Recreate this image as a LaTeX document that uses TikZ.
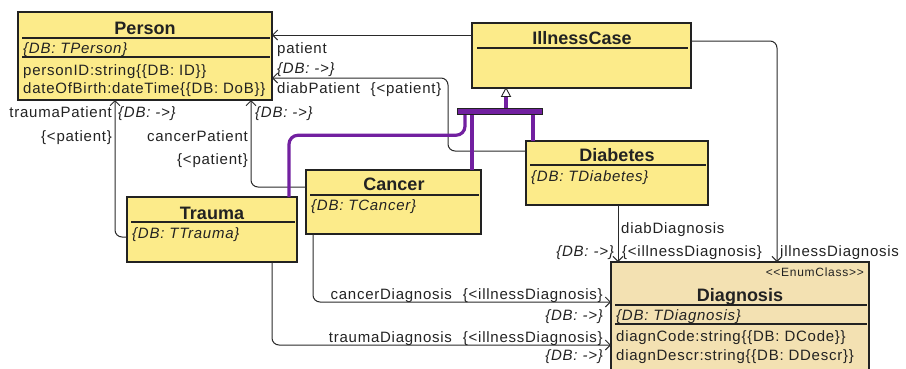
\documentclass[tikz,border=0pt]{standalone}
\usepackage{fontspec}
\setmainfont{Liberation Sans}[LetterSpace=5]
\newfontfamily\titlefont{Liberation Sans}
\newfontfamily\stereofont{Liberation Sans}[LetterSpace=6]
\usetikzlibrary{arrows.meta,calc}

\definecolor{clsfill}{HTML}{FCEB8A}
\definecolor{enumfill}{HTML}{F3E1B2}
\definecolor{genpurple}{HTML}{7220A0}
\definecolor{ink}{HTML}{222222}
\definecolor{edge}{HTML}{2A2A2A}

\tikzset{
  cls/.style={draw=ink, line width=1.3pt, fill=clsfill, anchor=north west,
    inner sep=0pt, outer sep=0pt},
  sep/.style={ink, line width=1.3pt},
  ttl/.style={font=\titlefont\bfseries\fontsize{18}{20}\selectfont, text=ink,
    inner sep=0pt, anchor=base},
  txt/.style={font=\fontsize{15}{17}\selectfont, text=ink, inner sep=0pt},
  db/.style={font=\fontsize{15}{17}\selectfont\itshape, text=ink, inner sep=0pt},
  stereo/.style={font=\stereofont\fontsize{12}{14}\selectfont, text=ink, inner sep=0pt},
  assoc/.style={draw=edge, line width=1pt, rounded corners=7pt,
    -{Straight Barb[length=5pt,width=10pt]}},
  genline/.style={draw=genpurple, line width=3.2pt, rounded corners=9pt},
  genbar/.style={draw=ink, line width=0.8pt, fill=genpurple, inner sep=0pt,
    outer sep=0pt, minimum width=85pt, minimum height=5.5pt},
}
\newcommand{\wgap}{\hspace*{11pt}}

\begin{document}
\begin{tikzpicture}[x=1pt, y=-1pt]
\useasboundingbox (0,0) rectangle (906,368);
\clip (0,0) rectangle (906,368);

% ---------- classes ----------
\node[cls, minimum width=254pt, minimum height=88pt] (person) at (18,12) {};
\node[ttl] (personT) at (145,34) {Person};
\draw[sep] (22,38) -- (270,38);
\node[db, anchor=base west] (personDB) at (23,53) {\{DB: TPerson\}};
\draw[sep] (22,57) -- (270,57);
\node[txt, anchor=base west] (personA1) at (23,75) {personID:string\{\{DB: ID\}\}};
\node[txt, anchor=base west] (personA2) at (23,93.5) {dateOfBirth:dateTime\{\{DB: DoB\}\}};

\node[cls, minimum width=219pt, minimum height=65pt] (illness) at (472,23) {};
\node[ttl] (illnessT) at (582,44) {IllnessCase};
\draw[sep] (477,48) -- (688,48);

\node[cls, minimum width=182pt, minimum height=64pt] (diabetes) at (526,141) {};
\node[ttl] (diabetesT) at (617,161.5) {Diabetes};
\draw[sep] (530,165) -- (706,165);
\node[db, anchor=base west] (diabetesDB) at (531,181.5) {\{DB: TDiabetes\}};

\node[cls, minimum width=175pt, minimum height=64pt] (cancer) at (306,170) {};
\node[ttl] (cancerT) at (394,190.5) {Cancer};
\draw[sep] (310,195) -- (479,195);
\node[db, anchor=base west] (cancerDB) at (311,210.5) {\{DB: TCancer\}};

\node[cls, minimum width=170pt, minimum height=65pt] (trauma) at (127,197) {};
\node[ttl] (traumaT) at (212,219) {Trauma};
\draw[sep] (131,222) -- (295,222);
\node[db, anchor=base west] (traumaDB) at (132,238) {\{DB: TTrauma\}};

\node[cls, fill=enumfill, minimum width=258pt, minimum height=113pt] (diagnosis) at (611,262) {};
\node[stereo, anchor=base east] (diagnosisS) at (864,276) {<{}<EnumClass>{}>};
\node[ttl] (diagnosisT) at (740,301) {Diagnosis};
\draw[sep] (615,305) -- (867,305);
\node[db, anchor=base west] (diagnosisDB) at (616,320.5) {\{DB: TDiagnosis\}};
\draw[sep] (615,324) -- (867,324);
\node[txt, anchor=base west] (diagnosisA1) at (616,341) {diagnCode:string\{\{DB: DCode\}\}};
\node[txt, anchor=base west] (diagnosisA2) at (616,360) {diagnDescr:string\{\{DB: DDescr\}\}};

% ---------- associations ----------
\draw[assoc] ($(illness.north west)+(0,12)$) -- ($(person.north east)+(0,23)$);
\node[txt, anchor=base west] (patientL) at (277,53) {patient};
\node[db, anchor=base west] (patientDB) at (277,73) {\{DB: ->\}};

\draw[assoc] ($(diabetes.north west)+(0,10)$) -- ++(-78,0)
  |- ($(person.north east)+(0,66)$);
\node[txt, anchor=base west] (diabPatientL) at (277,93) {diabPatient\wgap\{<patient\}};

\draw[assoc] ($(cancer.north west)+(0,17)$) -| ($(person.south west)+(233,0)$);
\node[db, anchor=base west] (cancerPatientDB) at (255,117) {\{DB: ->\}};
\node[txt, anchor=base east] (cancerPatientL) at (248,141) {cancerPatient};
\node[txt, anchor=base east] (cancerPatientR) at (248,164) {\{<patient\}};

\draw[assoc] ($(trauma.north west)+(0,40)$) -| ($(person.south west)+(97,0)$);
\node[txt, anchor=base east] (traumaPatientL) at (112,117) {traumaPatient};
\node[db, anchor=base west] (traumaPatientDB) at (118,117) {\{DB: ->\}};
\node[txt, anchor=base east] (traumaPatientR) at (112,141) {\{<patient\}};

\draw[assoc] ($(illness.north east)+(0,18)$) -| ($(diagnosis.north west)+(166,0)$);
\node[txt, anchor=base west] (illnessDiagL) at (780,256) {illnessDiagnosis};

\draw[assoc] ($(diabetes.south west)+(92,0)$) -- ($(diagnosis.north west)+(7,0)$);
\node[txt, anchor=base west] (diabDiagL) at (621,233) {diabDiagnosis};
\node[db, anchor=base east] (diabDiagDB) at (614,256) {\{DB: ->\}};
\node[txt, anchor=base west] (diabDiagR) at (622,256) {\{<illnessDiagnosis\}};

\draw[assoc] ($(cancer.south west)+(7,0)$) |- ($(diagnosis.north west)+(0,40)$);
\node[txt, anchor=base east] (cancerDiagL) at (603,299) {cancerDiagnosis\wgap\{<illnessDiagnosis\}};
\node[db, anchor=base east] (cancerDiagDB) at (603,320) {\{DB: ->\}};

\draw[assoc] ($(trauma.south west)+(145,0)$) |- ($(diagnosis.north west)+(0,83)$);
\node[txt, anchor=base east] (traumaDiagL) at (603,342) {traumaDiagnosis\wgap\{<illnessDiagnosis\}};
\node[db, anchor=base east] (traumaDiagDB) at (603,360) {\{DB: ->\}};

% ---------- generalization ----------
\node[genbar] (gen) at (499.5,111.5) {};
\draw[genline] ($(gen.south west)+(8,0)$) -- ++(0,21) -| ($(trauma.north east)+(-8,0)$);
\draw[genline] ($(gen.south west)+(15,0)$) -- ($(cancer.north east)+(-9,0)$);
\draw[genline] ($(gen.south west)+(76,0)$) -- ($(diabetes.north west)+(7,0)$);
\draw[genpurple, line width=3.2pt] ($(gen.north west)+(49,0)$) -- ($(illness.south west)+(34,8)$);
\draw[ink, line width=0.9pt, fill=white] ($(illness.south west)+(34,0)$)
  -- ++(-4.5,8.5) -- ++(9,0) -- cycle;
\node[genbar] at (gen) {};
\end{tikzpicture}
\end{document}
